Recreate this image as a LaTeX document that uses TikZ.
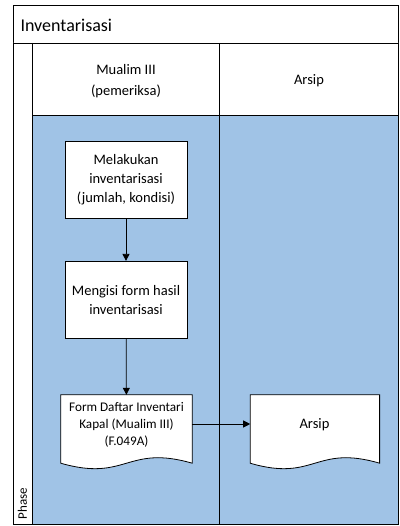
\documentclass[tikz,border=0pt]{standalone}
\usepackage{fontspec}
\setmainfont{Carlito}
\usepackage{tikz}
\usetikzlibrary{shapes,arrows.meta,positioning,fit,backgrounds}
\definecolor{lanefill}{RGB}{160, 195, 230}
\tikzstyle{lane} = [draw=black, line width=0.8pt, fill=lanefill]
\tikzstyle{header} = [draw=black, line width=0.8pt, fill=white]
\tikzstyle{process} = [rectangle, draw=black, line width=0.8pt, fill=white, text=black, align=center, font=\fontsize{14.5}{19}\selectfont, minimum width=122pt, minimum height=77pt, inner sep=2pt]
\tikzstyle{docbox} = [rectangle, draw=none, text=black, align=center, minimum width=131pt, minimum height=68pt, inner sep=1pt]
\tikzstyle{textonly} = [draw=none, fill=none, text=black, align=center, font=\fontsize{14.5}{21}\selectfont]
\tikzstyle{tedge}  = [draw, line width=0.8pt, -{Triangle[length=7pt,width=7pt]}]
\newcommand{\docshape}[1]{\draw[line width=0.8pt, fill=white] (#1.north west) -- (#1.north east) -- (#1.south east) .. controls ([yshift=19pt]#1.south) and ([yshift=-19pt]#1.south) .. (#1.south west) -- cycle;}

\begin{document}
\begin{tikzpicture}[x=1pt, y=-1pt]
\useasboundingbox (0,0) rectangle (399,526);

% pool and lanes =============================
\draw[header] (13,5) rectangle (398.5,524);
\draw[header] (13,43) -- (398.5,43);
\draw[header] (32.5,43) -- (32.5,524);
\draw[lane] (32.5,115) rectangle (219,524);
\draw[lane] (219,115) rectangle (398.5,524);
\draw[header] (219,43) -- (219,115);

\node[textonly, anchor=west, font=\fontsize{18}{21}\selectfont] (title) at (17,25) {Inventarisasi};
\node[textonly] (mualim) at (126,81) {Mualim III\\(pemeriksa)};
\node[textonly] (arsiplane) at (309,81) {Arsip};
\node[textonly, rotate=90, anchor=west, font=\fontsize{13}{15}\selectfont] (phase) at (22.5,523) {Phase};

% steps =============================
\node[process] (inv) at (126,180) {Melakukan\\inventarisasi\\(jumlah, kondisi)};
\node[process, below=42pt of inv] (isi) {Mengisi form hasil\\inventarisasi};
\node[docbox] (form) at (126.5,429) {};
\docshape{form}
\node[textonly, font=\fontsize{13.2}{17}\selectfont] (formtext) at (126.5,425) {Form Daftar Inventari\\Kapal (Mualim III)\\(F.049A)};
\node[docbox, minimum width=129pt, right=58pt of form] (arsip) {};
\docshape{arsip}
\node[textonly] (arsiptext) at (314.5,425) {Arsip};

% edges
\path[tedge] (inv) -- (isi);
\path[tedge] (isi) -- (form);
\path[tedge] ([yshift=5pt]form.east) -- ([yshift=5pt]arsip.west);

\end{tikzpicture}
\end{document}
